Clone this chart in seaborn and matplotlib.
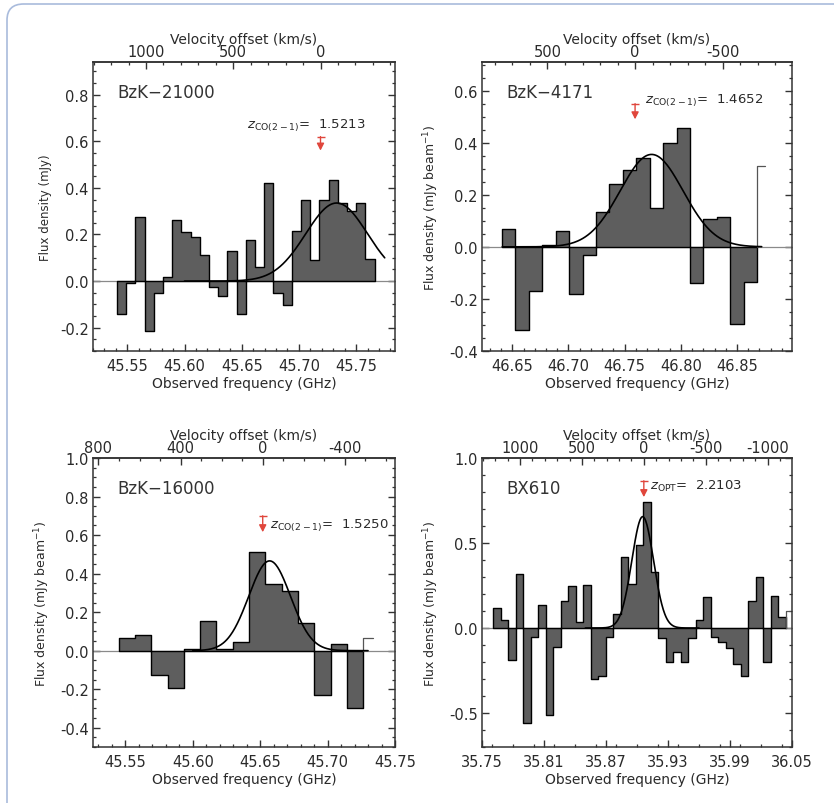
import numpy as np
import pandas as pd
import matplotlib
matplotlib.use("Agg")
import matplotlib.pyplot as plt
import seaborn as sns
from matplotlib.ticker import FixedLocator, MultipleLocator, FormatStrFormatter
from matplotlib.patches import FancyBboxPatch

# ---------------- data ----------------
C_KMS = 299792.458
CO10_REST_GHZ = 115.271

names = ["BzK\u221221000", "BzK\u22124171", "BzK\u221216000", "BX610"]
z_tags = ["CO(2-1)", "CO(2-1)", "CO(2-1)", "OPT"]
redshifts = [1.5213, 1.4652, 1.5250, 2.2103]

# low edge of first channel and channel width (GHz)
chan_start_ghz = [45.541, 46.6408, 45.545, 35.761]
chan_width_ghz = [0.00804, 0.01196, 0.0121, 0.00726]

flux_bzk21000 = [-0.143, -0.010, 0.274, -0.213, -0.050, 0.019, 0.260, 0.211, 0.190, 0.110,
                 -0.024, -0.064, 0.131, -0.140, 0.176, 0.060, 0.421, -0.050, -0.104, 0.217,
                 0.350, 0.090, 0.350, 0.433, 0.336, 0.300, 0.336, 0.093]
flux_bzk4171 = [0.067, -0.320, -0.170, 0.006, 0.060, -0.180, -0.030, 0.135, 0.240, 0.295,
                0.340, 0.150, 0.400, 0.455, -0.137, 0.106, 0.115, -0.295, -0.135]
flux_bzk16000 = [0.067, 0.081, -0.126, -0.195, 0.009, 0.154, 0.009, 0.043, 0.513, 0.345,
                 0.310, 0.145, -0.230, 0.035, -0.300]
flux_bx610 = [0.120, 0.045, -0.190, 0.315, -0.560, -0.053, 0.137, -0.510, -0.110, 0.157,
              0.250, 0.035, 0.255, -0.300, -0.280, -0.053, 0.085, 0.420, 0.260, 0.490,
              0.740, 0.330, -0.060, -0.200, -0.140, -0.200, -0.060, 0.045, 0.180, -0.053,
              -0.080, -0.120, -0.210, -0.280, 0.157, 0.300, -0.200, 0.190, 0.065]
spectra = [flux_bzk21000, flux_bzk4171, flux_bzk16000, flux_bx610]
# partially drawn (unfilled) channel after the last one
open_flux = [None, 0.31, 0.067, 0.10]

# Gaussian fits (centre GHz, peak mJy, sigma GHz) and drawn range
fit_center = [45.733, 46.774, 45.657, 35.9055]
fit_amp = [0.335, 0.355, 0.466, 0.655]
fit_sigma = [0.027, 0.028, 0.0155, 0.0105]
fit_range = [(45.60, 45.775), (46.641, 46.872), (45.60, 45.73), (35.85, 35.96)]

freq_ticks = [[45.55, 45.60, 45.65, 45.70, 45.75],
              [46.65, 46.70, 46.75, 46.80, 46.85],
              [45.55, 45.60, 45.65, 45.70, 45.75],
              [35.75, 35.81, 35.87, 35.93, 35.99, 36.05]]
vel_ticks = [[1000, 500, 0], [500, 0, -500], [800, 400, 0, -400],
             [1000, 500, 0, -500, -1000]]
flux_ticks = [[-0.2, 0.0, 0.2, 0.4, 0.6, 0.8],
              [-0.4, -0.2, 0.0, 0.2, 0.4, 0.6],
              [-0.4, -0.2, 0.0, 0.2, 0.4, 0.6, 0.8, 1.0],
              [-0.5, 0.0, 0.5, 1.0]]
ylabels = ["Flux density (mJy)", "Flux density (mJy beam$^{-1}$)",
           "Flux density (mJy beam$^{-1}$)", "Flux density (mJy beam$^{-1}$)"]

# ---------------- layout / style ----------------
W, H = 834, 804
rects_px = [(93, 63, 395, 352), (482, 63, 792, 352),
            (93, 459, 395, 748), (482, 459, 792, 748)]
xlims = [(45.52, 45.784), (46.623, 46.899), (45.526, 45.75), (35.75, 36.05)]
ylims = [(-0.3, 0.94), (-0.4, 0.71), (-0.5, 1.0), (-0.7, 1.0)]
x_minor = [0.01, 0.01, 0.01, 0.02]
y_minor = [0.05, 0.05, 0.05, 0.1]
arrow_y = [(0.62, 0.56), (0.55, 0.49), (0.70, 0.615), (0.866, 0.77)]
text_xy = [(45.655, 0.67), (46.768, 0.563), (45.657, 0.655), (35.913, 0.837)]
ylabel_size = [8.5, 9, 9, 9]

FILL = "#5e5e5e"
RED = "#e0463c"
INK = "#2a2a2a"

sns.set_theme(style="ticks")
plt.rcParams["font.family"] = ["DejaVu Sans"]
plt.rcParams["mathtext.fontset"] = "dejavusans"
plt.rcParams["axes.edgecolor"] = "#333333"
plt.rcParams["axes.linewidth"] = 1.1
plt.rcParams["xtick.color"] = "#333333"
plt.rcParams["ytick.color"] = "#333333"
plt.rcParams["xtick.labelcolor"] = INK
plt.rcParams["ytick.labelcolor"] = INK

fig = plt.figure(figsize=(W / 100, H / 100), dpi=100)
fig.patch.set_facecolor("white")

border = FancyBboxPatch((7 / W, -0.05), 1.1, 1.05 - 5 / H,
                        boxstyle="round,pad=0,rounding_size=0.02",
                        transform=fig.transFigure, facecolor="none",
                        edgecolor="#a9bbdc", linewidth=1.2, clip_on=False)
fig.add_artist(border)

for i in range(4):
    x0, y0, x1, y1 = rects_px[i]
    ax = fig.add_axes([x0 / W, 1 - y1 / H, (x1 - x0) / W, (y1 - y0) / H])
    ax.set_facecolor("white")

    flux = spectra[i]
    w = chan_width_ghz[i]
    edges = chan_start_ghz[i] + w * np.arange(len(flux) + 1)
    centers = edges[:-1] + w / 2
    df = pd.DataFrame({"freq": centers, "flux": flux})

    ax.axhline(0, color="#8a8a8a", lw=0.9, zorder=1)
    sns.histplot(data=df, x="freq", weights="flux", bins=[float(e) for e in edges],
                 element="step", fill=True, color=FILL, edgecolor="black",
                 linewidth=1.0, alpha=1.0, ax=ax, zorder=2)
    if open_flux[i] is not None:
        e = edges[-1]
        ax.plot([e, e, e + 0.6 * w], [0, open_flux[i], open_flux[i]],
                color="#555555", lw=0.9, zorder=2)

    fx = np.linspace(fit_range[i][0], fit_range[i][1], 300)
    fy = fit_amp[i] * np.exp(-0.5 * ((fx - fit_center[i]) / fit_sigma[i]) ** 2)
    sns.lineplot(x=fx, y=fy, color="black", lw=1.2, estimator=None, ax=ax, zorder=3)

    nu0 = CO10_REST_GHZ / (1 + redshifts[i])
    yt, yb = arrow_y[i]
    ax.annotate("", xy=(nu0, yb), xytext=(nu0, yt),
                arrowprops=dict(arrowstyle="-|>,head_length=0.35,head_width=0.18",
                                color=RED, lw=1.0, shrinkA=0, shrinkB=0), zorder=4)
    ax.plot([nu0], [yt], marker="_", ms=6, mew=1.0, color=RED, zorder=4)
    tx, ty = text_xy[i]
    ax.text(tx, ty, r"$z_{\mathrm{%s}}$=  %.4f" % (z_tags[i], redshifts[i]),
            fontsize=9.5, color=INK, ha="left", va="center")
    ax.text(0.08, 0.895, names[i], transform=ax.transAxes, fontsize=12,
            color="#333333", ha="left", va="center")

    ax.set_xlim(*xlims[i])
    ax.set_ylim(*ylims[i])
    ax.xaxis.set_major_locator(FixedLocator(freq_ticks[i]))
    ax.xaxis.set_minor_locator(MultipleLocator(x_minor[i]))
    ax.xaxis.set_major_formatter(FormatStrFormatter("%.2f"))
    ax.yaxis.set_major_locator(FixedLocator(flux_ticks[i]))
    ax.yaxis.set_minor_locator(MultipleLocator(y_minor[i]))
    ax.yaxis.set_major_formatter(FormatStrFormatter("%.1f"))
    ax.tick_params(axis="x", which="both", direction="in", top=False, bottom=True,
                   labelsize=10.5, pad=5)
    ax.tick_params(axis="y", which="both", direction="in", left=True, right=True,
                   labelsize=10.5, pad=3)
    ax.tick_params(which="major", length=5, width=1.0)
    ax.tick_params(which="minor", length=2.5, width=0.9)
    ax.set_xlabel("Observed frequency (GHz)", fontsize=10, color=INK, labelpad=2)
    ax.set_ylabel(ylabels[i], fontsize=ylabel_size[i], color=INK, labelpad=6)

    def f2v(f, nu0=nu0):
        return C_KMS * (nu0 - np.asarray(f)) / nu0

    def v2f(v, nu0=nu0):
        return nu0 * (1 - np.asarray(v) / C_KMS)

    sec = ax.secondary_xaxis("top", functions=(f2v, v2f))
    sec.xaxis.set_major_locator(FixedLocator(vel_ticks[i]))
    sec.xaxis.set_minor_locator(MultipleLocator(100))
    sec.xaxis.set_major_formatter(FormatStrFormatter("%d"))
    sec.tick_params(which="both", direction="in", labelsize=10.5, pad=2)
    sec.tick_params(which="major", length=5, width=1.0)
    sec.tick_params(which="minor", length=2.5, width=0.9)
    sec.set_xlabel("Velocity offset (km/s)", fontsize=10, color=INK, labelpad=1)

fig.savefig("out.png", dpi=100)
